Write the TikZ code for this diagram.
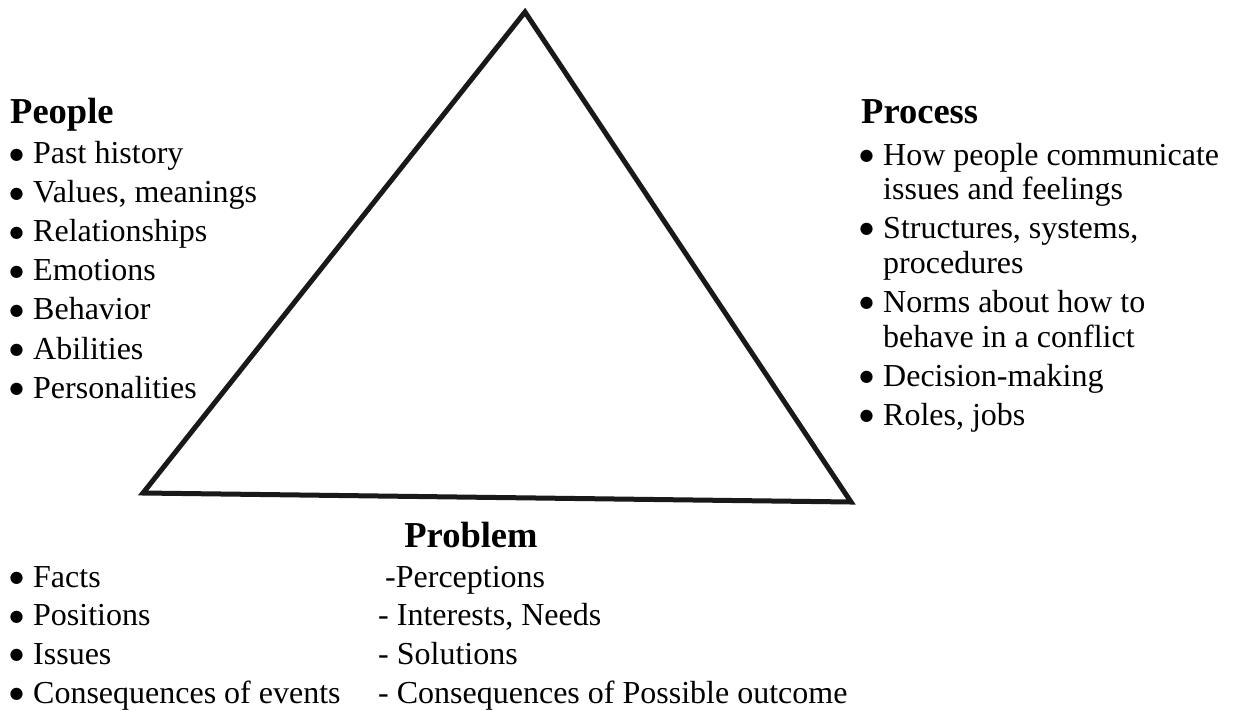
\documentclass[tikz,border=0pt]{standalone}
\usepackage{fontspec}
\setmainfont{Liberation Serif}
\newfontfamily\bulfont{DejaVu Sans}
\newcommand\bulmark{\makebox[25pt][l]{\hspace{1.5pt}\raisebox{4.5pt}[0pt][0pt]{\bulfont\fontsize{16}{16}\selectfont ●}}}
\begin{document}
\begin{tikzpicture}[x=1pt,y=-1pt,
  body/.style={anchor=base west,inner sep=0pt,font=\fontsize{32}{32}\selectfont},
  head/.style={anchor=base west,inner sep=0pt,font=\bfseries\fontsize{36.5}{36.5}\selectfont},
  edge/.style={line width=5pt,line join=miter,draw=black!90}]
\useasboundingbox (0,0) rectangle (1234,713);
% triangle
\coordinate (apex) at (525,12);
\coordinate (bl) at (143,493);
\coordinate (br) at (851,502);
\draw[edge] (apex) -- (bl) -- (br) -- cycle;
% People
\node[head] (peopleH) at (10,123) {People};
\foreach \t [count=\i from 0] in {Past history,{Values, meanings},Relationships,Emotions,Behavior,Abilities,Personalities}{
  \node[body] (pe\i) at (8,163.5+39.1*\i) {\bulmark\t};
}
% Process
\node[head] (processH) at (861,123) {Process};
\node[body] (pr1) at (858,165) {\bulmark How people communicate};
\node[body] (pr1b) at (883,199) {issues and feelings};
\node[body] (pr2) at (858,238) {\bulmark Structures, systems,};
\node[body] (pr2b) at (883,273) {procedures};
\node[body] (pr3) at (858,312) {\bulmark Norms about how to};
\node[body] (pr3b) at (883,347) {behave in a conflict};
\node[body] (pr4) at (858,386) {\bulmark Decision-making};
\node[body] (pr5) at (858,425) {\bulmark Roles, jobs};
% Problem
\node[head,anchor=base] (problemH) at (471,547) {Problem};
\foreach \t [count=\i from 0] in {Facts,Positions,Issues,Consequences of events}{
  \node[body] (pl\i) at (8,587+38.7*\i) {\bulmark\t};
}
\node[body] (pq0) at (385,587) {-Perceptions};
\node[body] (pq1) at (378,625.7) {- Interests, Needs};
\node[body] (pq2) at (378,664.4) {- Solutions};
\node[body] (pq3) at (378,703.1) {- Consequences of Possible outcome};
\end{tikzpicture}
\end{document}
